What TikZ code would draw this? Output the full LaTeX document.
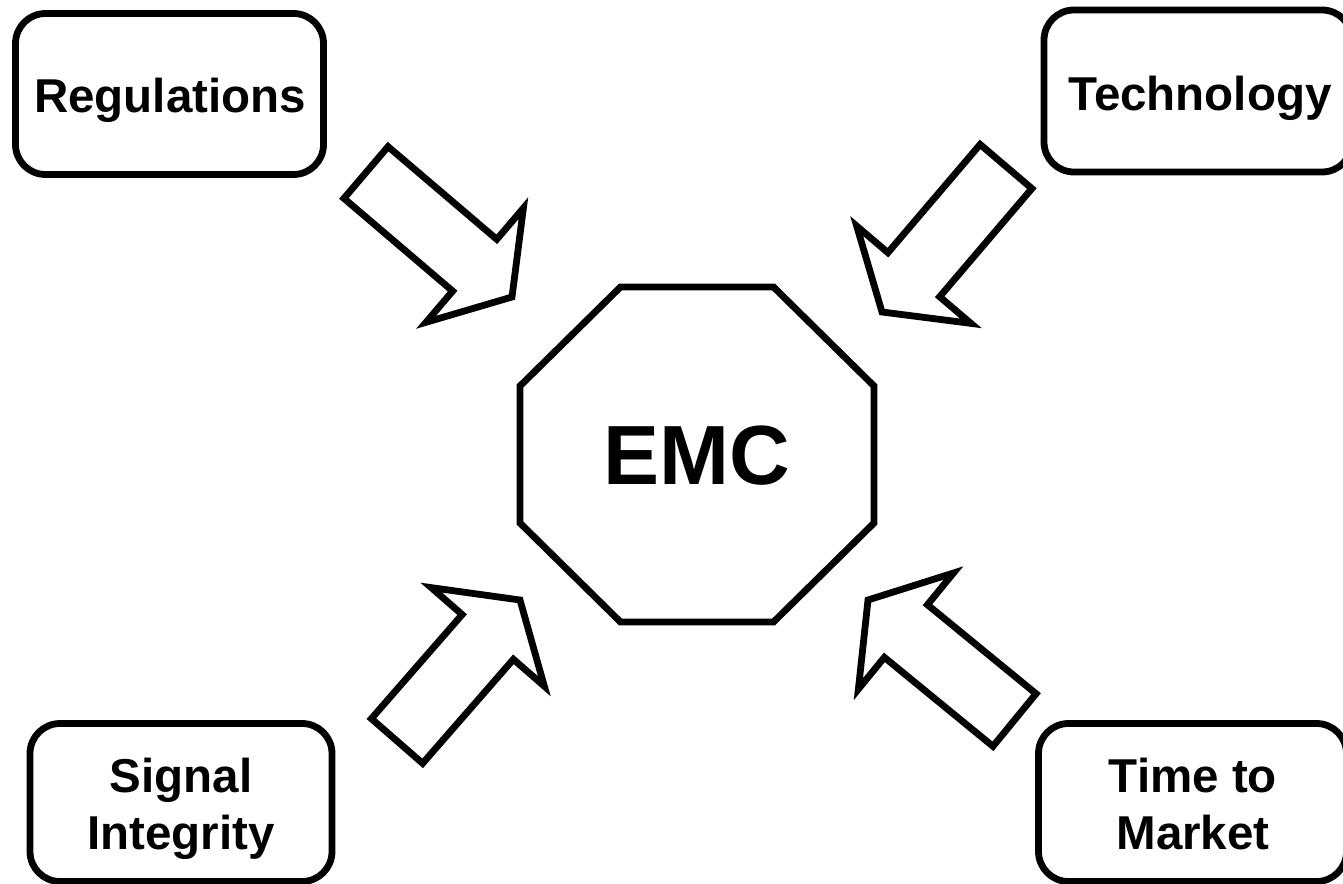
\documentclass[tikz,border=0pt]{standalone}
\usepackage{fontspec}
\setmainfont{Liberation Sans}
\usetikzlibrary{calc}

% hollow block arrow: #1 name prefix, #2 tail centre, #3 tip
\newcommand\blockarrow[3]{%
  \coordinate (#1-base) at ($(#3)!49pt!(#2)$);
  \draw[stroke]
    ($(#2)!34pt!90:(#3)$) --
    ($(#1-base)!34pt!90:(#3)$) --
    ($(#1-base)!75pt!90:(#3)$) --
    (#3) --
    ($(#1-base)!75pt!-90:(#3)$) --
    ($(#1-base)!34pt!-90:(#3)$) --
    ($(#2)!34pt!-90:(#3)$) -- cycle;
}

\begin{document}
\begin{tikzpicture}[x=1pt, y=-1pt,
  stroke/.style={draw=black, line width=6.8pt, line join=miter, fill=white},
  factorbox/.style={stroke, rounded corners=30pt, inner sep=0pt},
  factortext/.style={font=\fontsize{47.5}{57}\selectfont\bfseries, align=center, inner sep=0pt},
  coretext/.style={font=\fontsize{84}{84}\selectfont\bfseries, inner sep=0pt, text height=60pt, text depth=0pt}]

  \fill[white] (0,0) rectangle (1343,883);
  \useasboundingbox (0,0) rectangle (1343,883);

  % the four influencing factors
  \node[factorbox, minimum width=308pt, minimum height=161pt] (reg)  at (169.5,94)  {};
  \node[factorbox, minimum width=308pt, minimum height=162pt] (tech) at (1198,91)   {};
  \node[factorbox, minimum width=302pt, minimum height=158pt] (si)   at (181,802.5) {};
  \node[factorbox, minimum width=308pt, minimum height=158pt] (ttm)  at (1192.5,802.5) {};

  \node[factortext, text height=34pt, text depth=0pt] (regL)  at (170,95) {Regulations};
  \node[factortext, text height=34pt, text depth=0pt] (techL) at (1200,93) {Technology};
  \node[factortext] (siL)  at (181,808.6) {Signal\\Integrity};
  \node[factortext] (ttmL) at (1193,804)  {Time to\\Market};

  % central octagon
  \coordinate (core) at (697,454.5);
  \draw[stroke] ($(core)+(-76.5,-167.5)$) -- ($(core)+(76.5,-167.5)$)
    -- ($(core)+(177,-68.5)$) -- ($(core)+(177,68.5)$)
    -- ($(core)+(76.5,167.5)$) -- ($(core)+(-76.5,167.5)$)
    -- ($(core)+(-177,68.5)$) -- ($(core)+(-177,-68.5)$) -- cycle;
  \node[coretext] (emc) at (core) {EMC};

  % arrows from each factor towards EMC
  \coordinate (regTail)  at (366,172.5);
  \coordinate (regTip)   at (512,297);
  \coordinate (techTail) at (1006,166.5);
  \coordinate (techTip)  at (882,312);
  \coordinate (siTail)   at (397,741);
  \coordinate (siTip)    at (520,600);
  \coordinate (ttmTail)  at (1014.5,720);
  \coordinate (ttmTip)   at (868,600);

  \blockarrow{regA}{regTail}{regTip}
  \blockarrow{techA}{techTail}{techTip}
  \blockarrow{siA}{siTail}{siTip}
  \blockarrow{ttmA}{ttmTail}{ttmTip}
\end{tikzpicture}
\end{document}
